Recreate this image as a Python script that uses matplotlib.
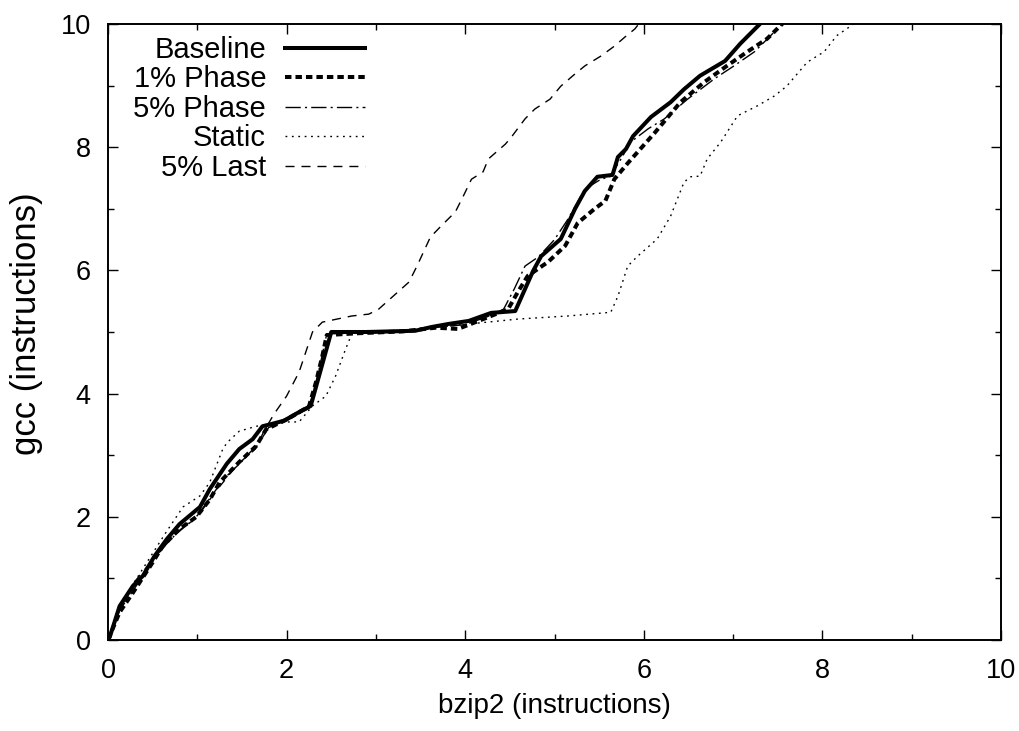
import matplotlib
matplotlib.use("Agg")
import matplotlib.pyplot as plt
from matplotlib.ticker import MultipleLocator

plt.rcParams['font.family'] = ['Liberation Sans', 'DejaVu Sans']

# ---- data ----
baseline_x = [0, 0.02, 0.13, 0.28, 0.39, 0.52, 0.66, 0.80, 1.03, 1.14, 1.33, 1.47, 1.62, 1.73, 1.84, 1.97,
              2.14, 2.27, 2.50, 2.89, 3.44, 3.62, 3.81, 4.04, 4.29, 4.56, 4.76, 4.85, 5.07, 5.23, 5.34,
              5.48, 5.65, 5.71, 5.80, 5.88, 6.08, 6.30, 6.45, 6.63, 6.91, 7.08, 7.30, 7.36]
baseline_y = [0, 0.05, 0.55, 0.88, 1.04, 1.36, 1.64, 1.88, 2.16, 2.45, 2.86, 3.10, 3.26, 3.47, 3.51, 3.56,
              3.70, 3.80, 5.00, 5.00, 5.02, 5.08, 5.13, 5.18, 5.31, 5.34, 5.99, 6.23, 6.51, 7.00, 7.29,
              7.52, 7.55, 7.84, 7.97, 8.18, 8.49, 8.73, 8.94, 9.16, 9.40, 9.68, 10.0, 10.1]

phase1_x = [0, 0.13, 0.28, 0.50, 0.61, 0.80, 0.99, 1.14, 1.25, 1.47, 1.66, 1.77, 2.00, 2.25, 2.33, 2.40,
            2.45, 2.8, 3.3, 3.67, 3.92, 4.15, 4.48, 4.59, 4.70, 4.93, 5.12, 5.26, 5.45, 5.57, 5.67, 5.82,
            5.93, 6.12, 6.41, 6.68, 6.93, 7.16, 7.38, 7.57, 7.62]
phase1_y = [0, 0.45, 0.77, 1.26, 1.52, 1.80, 2.00, 2.28, 2.56, 2.89, 3.15, 3.42, 3.58, 3.79, 4.19, 4.61,
            4.95, 4.98, 5.01, 5.07, 5.05, 5.18, 5.37, 5.65, 5.91, 6.14, 6.40, 6.77, 7.00, 7.13, 7.48, 7.74,
            7.92, 8.23, 8.73, 9.06, 9.32, 9.55, 9.76, 10.03, 10.1]

phase5_x = [0, 0.13, 0.28, 0.50, 0.65, 0.80, 1.0, 1.15, 1.3, 1.5, 1.7, 1.8, 2.0, 2.25, 2.35, 2.45, 2.8,
            3.3, 3.7, 4.0, 4.25, 4.43, 4.55, 4.67, 4.82, 5.0, 5.15, 5.34, 5.52, 5.62, 5.75, 5.85, 6.05,
            6.23, 6.49, 6.79, 7.01, 7.24, 7.53, 7.6]
phase5_y = [0, 0.48, 0.8, 1.28, 1.55, 1.78, 2.02, 2.32, 2.62, 2.9, 3.22, 3.45, 3.56, 3.76, 4.3, 4.97, 4.98,
            5.0, 5.08, 5.12, 5.25, 5.37, 5.7, 6.07, 6.22, 6.5, 6.83, 7.32, 7.48, 7.52, 7.82, 8.08, 8.3,
            8.46, 8.78, 9.11, 9.32, 9.55, 9.97, 10.1]

static_x = [0, 0.1, 0.3, 0.58, 0.66, 0.84, 1.03, 1.14, 1.28, 1.33, 1.47, 1.66, 1.77, 2.0, 2.14, 2.29, 2.44,
            2.55, 2.66, 2.73, 3.0, 3.5, 4.04, 4.59, 5.15, 5.63, 5.71, 5.82, 5.93, 6.15, 6.30, 6.45, 6.52,
            6.63, 6.71, 6.86, 7.05, 7.27, 7.46, 7.60, 7.83, 8.02, 8.16, 8.35, 8.4]
static_y = [0, 0.45, 0.95, 1.59, 1.77, 2.16, 2.34, 2.56, 3.08, 3.2, 3.39, 3.47, 3.49, 3.54, 3.54, 3.80, 3.96,
            4.29, 4.72, 4.97, 5.0, 5.05, 5.13, 5.21, 5.26, 5.32, 5.58, 6.07, 6.23, 6.51, 6.88, 7.43, 7.52,
            7.53, 7.81, 8.08, 8.51, 8.67, 8.83, 8.99, 9.38, 9.55, 9.81, 10.0, 10.1]

last5_x = [0, 0.13, 0.3, 0.5, 0.7, 1.0, 1.2, 1.45, 1.65, 1.75, 1.86, 2.0, 2.14, 2.29, 2.40, 2.73, 2.92, 3.03,
           3.20, 3.37, 3.46, 3.61, 3.73, 3.89, 3.98, 4.07, 4.20, 4.26, 4.45, 4.52, 4.67, 4.78, 4.95, 5.07,
           5.23, 5.34, 5.52, 5.67, 5.79, 5.90, 5.97]
last5_y = [0, 0.5, 0.95, 1.3, 1.65, 2.0, 2.4, 2.85, 3.1, 3.4, 3.67, 3.96, 4.35, 5.0, 5.16, 5.26, 5.29, 5.37,
           5.59, 5.81, 6.07, 6.54, 6.72, 6.95, 7.21, 7.48, 7.60, 7.81, 8.05, 8.17, 8.46, 8.62, 8.78, 8.99,
           9.19, 9.32, 9.48, 9.64, 9.79, 9.92, 10.05]

labels = ["Baseline", "1% Phase", "5% Phase", "Static", "5% Last"]
x_ticks = [0, 2, 4, 6, 8, 10]
y_ticks = [0, 2, 4, 6, 8, 10]

# ---- figure ----
fig = plt.figure(figsize=(10.19, 7.31), dpi=100)
ax = fig.add_axes([108/1019, 1 - 640/731, (1001-108)/1019, (640-24)/731])

ax.plot(baseline_x, baseline_y, color='black', lw=2.9, solid_joinstyle='round', label=labels[0])
ax.plot(phase1_x, phase1_y, color='black', lw=2.9, linestyle=(0, (1.6, 1.0)), dash_capstyle='butt',
        label=labels[1])
ax.plot(phase5_x, phase5_y, color='black', lw=1.0, linestyle=(0, (11, 3, 1.5, 3)), label=labels[2])
ax.plot(static_x, static_y, color='black', lw=1.0, linestyle=(0, (1.3, 3.3)), label=labels[3])
ax.plot(last5_x, last5_y, color='black', lw=1.0, linestyle=(0, (6.5, 5)), label=labels[4])

ax.set_xlim(0, 10)
ax.set_ylim(0, 10)
ax.set_xticks(x_ticks)
ax.set_yticks(y_ticks)
ax.xaxis.set_minor_locator(MultipleLocator(1))
ax.yaxis.set_minor_locator(MultipleLocator(1))
ax.tick_params(which='both', direction='in', top=True, right=True, width=1.0, labelsize=19.5)
ax.tick_params(which='major', length=7)
ax.tick_params(which='minor', length=4)
ax.tick_params(axis='x', pad=13)
ax.tick_params(axis='y', pad=12.5)
for s in ax.spines.values():
    s.set_linewidth(1.4)

ax.set_xlabel("bzip2 (instructions)", fontsize=20)
ax.set_ylabel("gcc (instructions)", fontsize=25)
ax.xaxis.set_label_coords(0.4994, (640 - 693) / 616)
ax.yaxis.set_label_coords((43 - 108) / 893, 0.513)

leg = ax.legend(loc='upper right', bbox_to_anchor=((365 - 108) / 893, (640 - 36) / 616), frameon=False,
                markerfirst=False, fontsize=21, handlelength=2.74, handletextpad=0.65,
                labelspacing=0.05, borderaxespad=0, borderpad=0)

fig.savefig("out.png", dpi=100)
